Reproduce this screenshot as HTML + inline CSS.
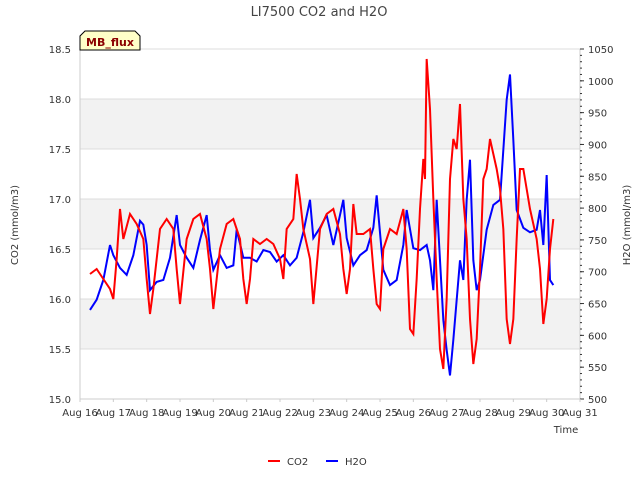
<!DOCTYPE html>
<html><head><meta charset="utf-8"><style>
body{margin:0;background:#fff;font-family:"Liberation Sans",sans-serif}
svg text{font-family:"DejaVu Sans","Liberation Sans",sans-serif}
</style></head><body>
<svg id="c" width="640" height="480" xmlns="http://www.w3.org/2000/svg">
<text x="319" y="16" text-anchor="middle" font-size="13" fill="#444">LI7500 CO2 and H2O</text>
<g id="grid"></g>
<g id="axes"></g>
<g id="series"></g>
<g>
<path d="M80,50 L80,36 L85,31 L135,31 L140,36 L140,50 Z" fill="#ffffc8" stroke="#000"/>
<text x="110" y="46" text-anchor="middle" font-size="11" font-weight="bold" fill="#8b0000">MB_flux</text>
</g>
<text x="566" y="433" text-anchor="middle" font-size="10" fill="#333">Time</text>
<text x="18" y="225" transform="rotate(-90 18 225)" text-anchor="middle" font-size="10" fill="#333">CO2 (mmol/m3)</text>
<text x="630" y="225" transform="rotate(-90 630 225)" text-anchor="middle" font-size="10" fill="#333">H2O (mmol/m3)</text>
<g>
<line x1="268" y1="461" x2="280" y2="461" stroke="red" stroke-width="2"/>
<text x="287" y="465" font-size="10" fill="#333">CO2</text>
<line x1="326" y1="461" x2="338" y2="461" stroke="blue" stroke-width="2"/>
<text x="345" y="465" font-size="10" fill="#333">H2O</text>
</g>
</svg>
<script>
const xTicks=["Aug 16","Aug 17","Aug 18","Aug 19","Aug 20","Aug 21","Aug 22","Aug 23","Aug 24","Aug 25","Aug 26","Aug 27","Aug 28","Aug 29","Aug 30","Aug 31"];
const leftTicks=[15.0,15.5,16.0,16.5,17.0,17.5,18.0,18.5];
const rightTicks=[500,550,600,650,700,750,800,850,900,950,1000,1050];
const co2Days=[16.3,16.5,16.7,16.9,17.0,17.1,17.2,17.3,17.5,17.7,17.9,18.0,18.1,18.2,18.4,18.6,18.8,18.9,19.0,19.2,19.4,19.6,19.8,19.9,20.0,20.2,20.4,20.6,20.8,20.9,21.0,21.1,21.2,21.4,21.6,21.8,22.0,22.1,22.2,22.4,22.5,22.6,22.7,22.9,23.0,23.2,23.4,23.6,23.8,23.9,24.0,24.1,24.2,24.3,24.5,24.7,24.8,24.9,25.0,25.1,25.3,25.5,25.7,25.8,25.9,26.0,26.1,26.2,26.3,26.35,26.4,26.5,26.6,26.7,26.8,26.9,27.0,27.1,27.2,27.3,27.4,27.5,27.6,27.7,27.8,27.9,28.0,28.1,28.2,28.3,28.4,28.5,28.6,28.7,28.8,28.9,29.0,29.1,29.2,29.3,29.4,29.5,29.6,29.7,29.8,29.9,30.0,30.1,30.2];
const co2Values=[16.25,16.3,16.2,16.1,16.0,16.4,16.9,16.6,16.85,16.75,16.6,16.2,15.85,16.1,16.7,16.8,16.7,16.3,15.95,16.6,16.8,16.85,16.6,16.3,15.9,16.5,16.75,16.8,16.6,16.2,15.95,16.2,16.6,16.55,16.6,16.55,16.4,16.2,16.7,16.8,17.25,17.0,16.7,16.4,15.95,16.7,16.85,16.9,16.65,16.3,16.05,16.3,16.95,16.65,16.65,16.7,16.3,15.95,15.9,16.5,16.7,16.65,16.9,16.5,15.7,15.65,16.2,16.9,17.4,17.2,18.4,17.9,17.0,16.2,15.5,15.3,16.0,17.2,17.6,17.5,17.95,17.0,16.6,15.8,15.35,15.6,16.3,17.2,17.3,17.6,17.45,17.3,17.1,16.7,15.8,15.55,15.8,16.6,17.3,17.3,17.1,16.9,16.75,16.6,16.3,15.75,16.0,16.5,16.8];
const h2oDays=[16.3,16.5,16.7,16.9,17.0,17.2,17.4,17.6,17.8,17.9,18.0,18.1,18.3,18.5,18.7,18.9,19.0,19.2,19.4,19.6,19.8,19.9,20.0,20.2,20.4,20.6,20.7,20.9,21.1,21.3,21.5,21.7,21.9,22.1,22.3,22.5,22.7,22.9,23.0,23.2,23.4,23.6,23.8,23.9,24.0,24.2,24.4,24.6,24.8,24.9,25.1,25.3,25.5,25.7,25.8,26.0,26.2,26.4,26.5,26.6,26.7,26.8,26.9,27.0,27.1,27.2,27.4,27.5,27.6,27.7,27.8,27.9,28.0,28.2,28.4,28.6,28.8,28.9,29.0,29.1,29.3,29.5,29.7,29.8,29.9,30.0,30.1,30.2];
const h2oValues=[640,656,687,742,726,706,695,726,780,774,742,671,684,687,722,789,742,722,706,750,789,734,703,726,706,710,766,722,722,716,734,731,716,726,710,722,762,813,753,769,789,742,789,813,753,710,726,734,769,820,703,679,687,742,797,737,734,742,718,671,813,718,624,577,537,593,718,687,813,876,718,671,687,766,805,813,970,1010,907,797,769,762,766,797,742,852,687,679];
const NS="http://www.w3.org/2000/svg";
const L=80,R=580,T=49,B=399;
const xS=d=>L+(d-16)*(R-L)/15;
const yL=v=>B-(v-15)*(B-T)/3.5;
const yR=v=>B-(v-500)*(B-T)/550;
function mk(t,a,p){const e=document.createElementNS(NS,t);for(const k in a)e.setAttribute(k,a[k]);p.appendChild(e);return e;}
const grid=document.getElementById('grid'),axes=document.getElementById('axes'),ser=document.getElementById('series');
for(let i=0;i<leftTicks.length-1;i++){if(i%2===1){const r=mk('rect',{x:L,y:yL(leftTicks[i+1]),width:R-L,height:yL(leftTicks[i])-yL(leftTicks[i+1]),fill:'#f2f2f2'},grid);

}}
leftTicks.forEach(v=>{const l=mk('line',{x1:L,x2:R,y1:yL(v),y2:yL(v),stroke:'#dcdcdc'},grid);


const t=mk('text',{x:L-9,y:yL(v)+4,'text-anchor':'end','font-size':10,fill:'#333'},axes);t.textContent=v.toFixed(1);

});
mk('line',{x1:L,x2:L,y1:T,y2:B,stroke:'#ccc'},axes);
mk('line',{x1:R,x2:R,y1:T,y2:B,stroke:'#ccc'},axes);
mk('line',{x1:L,x2:R,y1:B,y2:B,stroke:'#ccc'},axes);
rightTicks.forEach(v=>{mk('line',{x1:R,x2:R+4,y1:yR(v),y2:yR(v),stroke:'#333'},axes);
const t=mk('text',{x:R+8,y:yR(v)+4,'font-size':10,fill:'#333'},axes);t.textContent=v;

});
for(let v=500;v<=1050;v+=10){mk('line',{x1:R,x2:R+2,y1:yR(v),y2:yR(v),stroke:'#333'},axes);}
xTicks.forEach((s,i)=>{const x=xS(16+i);mk('line',{x1:x,x2:x,y1:B,y2:B+3,stroke:'#ccc'},axes);
const t=mk('text',{x:x,y:B+17,'text-anchor':'middle','font-size':10,fill:'#333'},axes);t.textContent=s;

});
const h=mk('polyline',{points:h2oDays.map((d,i)=>xS(d)+','+yR(h2oValues[i])).join(' '),fill:'none',stroke:'blue','stroke-width':2},ser);


const c=mk('polyline',{points:co2Days.map((d,i)=>xS(d)+','+yL(co2Values[i])).join(' '),fill:'none',stroke:'red','stroke-width':2},ser);


</script>
</body></html>
